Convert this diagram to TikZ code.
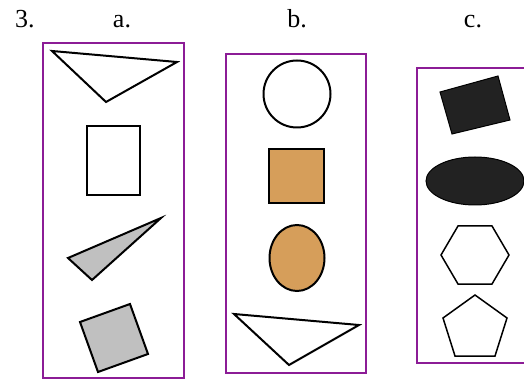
\documentclass[tikz,border=0pt]{standalone}
\usepackage{fontspec}
\setmainfont{Liberation Serif}
\definecolor{framepurple}{RGB}{140,28,150}
\definecolor{shapeorange}{RGB}{214,158,90}
\definecolor{shapegray}{RGB}{192,192,192}
\definecolor{shapeblack}{RGB}{34,34,34}
\begin{document}
\begin{tikzpicture}[x=1pt,y=-1pt,
  frame/.style={draw=framepurple,line width=2.2pt},
  shp/.style={draw=black,line width=2pt,line join=miter},
  lbl/.style={anchor=base,inner sep=0pt,font=\fontsize{26}{31}\selectfont}]
\useasboundingbox (0,0) rectangle (524,379);
% labels
\node[lbl,anchor=base west] (n3) at (15,28) {3.};
\node[lbl] (la) at (122,28) {a.};
\node[lbl] (lb) at (297,28) {b.};
\node[lbl] (lc) at (473,28) {c.};
% frames
\draw[frame] (43,43) rectangle (184,378);
\draw[frame] (226,54) rectangle (366,373);
\draw[frame] (525,68) -- (417,68) -- (417,363) -- (525,363);
% column a
\draw[shp,fill=white] (52,51) -- (177,62) -- (106,102) -- cycle;
\draw[shp,fill=white] (87,126) rectangle (140,195);
\draw[shp,fill=shapegray] (161,218) -- (68,258) -- (92,280) -- cycle;
\draw[shp,fill=shapegray] (80,322) -- (130,304) -- (148,354) -- (98,372) -- cycle;
% column b
\draw[shp,fill=white] (297,94) circle (33.5);
\draw[shp,fill=shapeorange] (269,149) rectangle (324,203);
\draw[shp,fill=shapeorange] (297,258) ellipse (27.5 and 33);
\draw[shp,fill=white] (234,314) -- (359,325) -- (289,365) -- cycle;
% column c
\draw[shp,fill=shapeblack,line width=1pt] (440,92) -- (498,76) -- (510,120) -- (452,134) -- cycle;
\draw[shp,fill=shapeblack,line width=1pt] (475,181) ellipse (49 and 24);
\draw[shp,line width=1.5pt] (441,255) -- (458,226) -- (492,226) -- (509,255) -- (492,284) -- (458,284) -- cycle;
\draw[shp,line width=1.5pt] (475,295) -- (507,318) -- (495,356) -- (455,356) -- (443,318) -- cycle;
\end{tikzpicture}
\end{document}
